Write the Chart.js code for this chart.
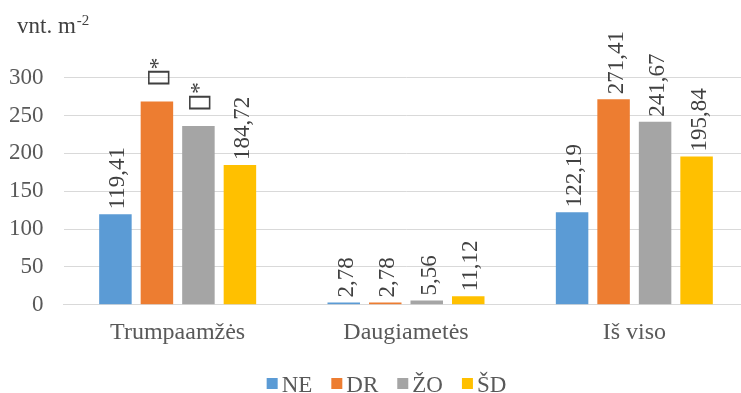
<!DOCTYPE html>
<html><head><meta charset="utf-8">
<script src="https://cdn.jsdelivr.net/npm/chart.js@4/dist/chart.umd.min.js"></script>
<style>
html,body{margin:0;padding:0;background:#fff;overflow:hidden;width:741px;height:393px}
#wrap{position:relative;width:750px;height:393px}
canvas{display:block}
</style></head><body>
<div id="wrap"><canvas id="c" width="750" height="393"></canvas></div>
<script>
const categories = ['Trumpaamžės', 'Daugiametės', 'Iš viso'];
const seriesNames = ['NE', 'DR', 'ŽO', 'ŠD'];
const seriesColors = ['#5b9bd5', '#ed7d31', '#a5a5a5', '#ffc000'];
const valuesNE = [119.41, 2.78, 122.19];
const valuesDR = [268.7, 2.78, 271.41];
const valuesZO = [236.1, 5.56, 241.67];
const valuesSD = [184.72, 11.12, 195.84];
// note markers shown instead of the number
const notesNE = [null, null, null];
const notesDR = ['▯*', null, null];
const notesZO = ['▯*', null, null];
const notesSD = [null, null, null];
const yTicks = [0, 50, 100, 150, 200, 250, 300];
const unitLabel = 'vnt. m';
const unitPower = '-2';

const FONT = '"Liberation Serif", "Times New Roman", serif';
const fmt = v => v.toFixed(2).replace('.', ',');

const seriesValues = [valuesNE, valuesDR, valuesZO, valuesSD];
const seriesNotes = [notesNE, notesDR, notesZO, notesSD];

const datasets = seriesNames.map((name, i) => ({
  label: name,
  data: seriesValues[i],
  notes: seriesNotes[i],
  backgroundColor: seriesColors[i],
  borderWidth: 0,
  categoryPercentage: 0.727,
  barPercentage: 0.783
}));

// value labels, rotated to read upwards above each bar
const barLabels = {
  id: 'barLabels',
  afterDatasetsDraw(chart) {
    const ctx = chart.ctx;
    ctx.save();
    ctx.fillStyle = '#404040';
    chart.data.datasets.forEach((ds, i) => {
      chart.getDatasetMeta(i).data.forEach((bar, j) => {
        const note = ds.notes[j];
        ctx.save();
        ctx.translate(bar.x, bar.y - 5);
        ctx.rotate(-Math.PI / 2);
        ctx.textAlign = 'left';
        ctx.textBaseline = 'alphabetic';
        if (note) {
          // marker glyph, stretched along the text direction, then the asterisk
          const mark = note.slice(0, 1), rest = note.slice(1);
          const stretch = 1.35;
          ctx.font = '28px ' + FONT;
          const mw = ctx.measureText(mark).width * stretch;
          ctx.save();
          ctx.translate(8, 0);
          ctx.scale(stretch, 1);
          ctx.fillText(mark, 0, 9);
          ctx.restore();
          ctx.font = '23px ' + FONT;
          ctx.fillText(rest, 8 + mw - 1, 8);
        } else {
          ctx.font = '23px ' + FONT;
          ctx.fillText(fmt(ds.data[j]), 0, 9);
        }
        ctx.restore();
      });
    });
    ctx.restore();
  }
};

const unitTitle = {
  id: 'unitTitle',
  afterDraw(chart) {
    const ctx = chart.ctx;
    ctx.save();
    ctx.fillStyle = '#404040';
    ctx.textBaseline = 'alphabetic';
    ctx.textAlign = 'left';
    ctx.font = '23px ' + FONT;
    ctx.fillText(unitLabel, 17, 33);
    const w = ctx.measureText(unitLabel).width;
    ctx.font = '15px ' + FONT;
    ctx.fillText(unitPower, 17 + w + 1, 25);
    ctx.restore();
  }
};

const bottomLegend = {
  id: 'bottomLegend',
  afterDraw(chart) {
    const ctx = chart.ctx;
    ctx.save();
    ctx.font = '23px ' + FONT;
    ctx.textBaseline = 'alphabetic';
    ctx.textAlign = 'left';
    const box = 11, gap = 4, spacing = 19;
    const items = chart.data.datasets.map(ds => ({
      text: ds.label, color: ds.backgroundColor, w: ctx.measureText(ds.label).width
    }));
    const total = items.reduce((s, it) => s + box + gap + it.w, 0) + spacing * (items.length - 1);
    let x = 386.5 - total / 2;
    items.forEach(it => {
      ctx.fillStyle = it.color;
      ctx.fillRect(x, 378, box, box);
      ctx.fillStyle = '#595959';
      ctx.fillText(it.text, x + box + gap, 392);
      x += box + gap + it.w + spacing;
    });
    ctx.restore();
  }
};

new Chart(document.getElementById('c'), {
  type: 'bar',
  data: { labels: categories, datasets },
  options: {
    responsive: false,
    animation: false,
    devicePixelRatio: 1,
    layout: { padding: { top: 77.7, right: 1.5, bottom: 0, left: 0 } },
    plugins: { legend: { display: false }, tooltip: { enabled: false } },
    scales: {
      x: {
        grid: { display: false, drawTicks: false },
        border: { display: true, color: '#d9d9d9', width: 1 },
        ticks: { color: '#595959', font: { family: FONT, size: 24 }, padding: 14 },
        afterFit(s) { s.height = 393 - 77.7 - 227; }
      },
      y: {
        min: 0, max: 300,
        afterBuildTicks(s) { s.ticks = yTicks.map(v => ({ value: v })); },
        grid: { color: '#d9d9d9', lineWidth: 1, drawTicks: false },
        border: { display: false },
        ticks: { color: '#595959', font: { family: FONT, size: 23 }, padding: 20 },
        afterFit(s) { s.width = 63.5; }
      }
    }
  },
  plugins: [barLabels, unitTitle, bottomLegend]
});
</script>
</body></html>
